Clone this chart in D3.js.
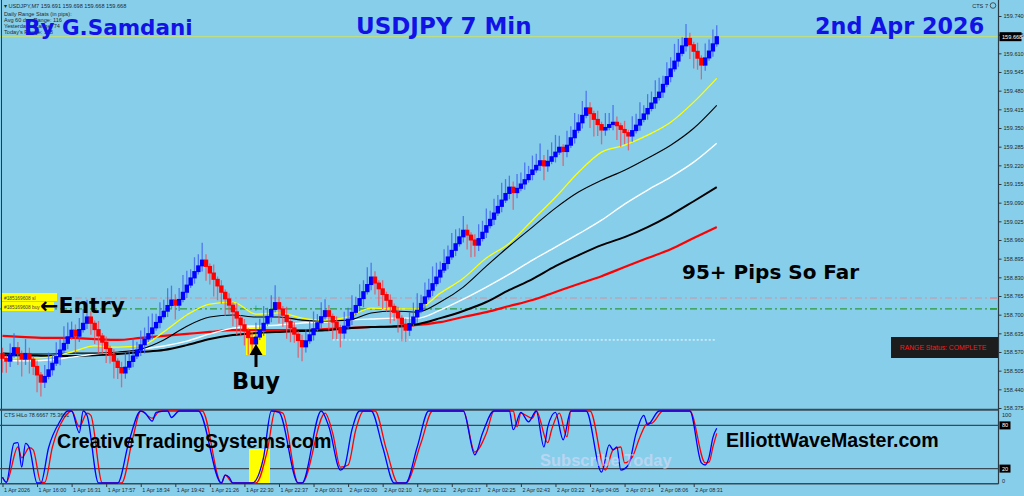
<!DOCTYPE html>
<html><head><meta charset="utf-8">
<script src="https://cdn.jsdelivr.net/npm/d3@7"></script>
<style>body{margin:0;background:#87CEEB;overflow:hidden}svg{display:block}</style>
</head><body><svg id="c" width="1024" height="496"></svg>
<script>
// ---------- DATA ----------
const firstOpen = 158.565;
const closes = [
158.548,158.538,158.560,158.585,158.565,158.545,158.565,158.545,158.520,158.490,
158.465,158.485,158.508,158.531,158.554,158.577,158.600,158.623,158.646,158.625,
158.648,158.670,158.692,158.670,158.648,158.626,158.604,158.582,158.560,158.538,
158.516,158.497,158.517,158.537,158.556,158.576,158.595,158.615,158.634,158.654,
158.673,158.693,158.712,158.732,158.751,158.733,158.753,158.778,158.803,158.828,
158.850,158.870,158.890,158.868,158.845,158.823,158.800,158.778,158.755,158.733,
158.710,158.688,158.665,158.643,158.620,158.598,158.622,158.646,158.670,158.694,
158.718,158.742,158.720,158.698,158.676,158.654,158.632,158.610,158.588,158.609,
158.630,158.651,158.672,158.693,158.714,158.694,158.674,158.655,158.636,158.660,
158.684,158.708,158.732,158.756,158.780,158.805,158.831,158.810,158.790,158.770,
158.750,158.729,158.708,158.688,158.667,158.646,158.669,158.692,158.715,158.739,
158.762,158.785,158.808,158.831,158.855,158.878,158.901,158.924,158.947,158.971,
158.994,158.977,158.960,158.942,158.965,158.987,159.010,159.032,159.054,159.077,
159.099,159.122,159.144,159.125,159.140,159.155,159.170,159.188,159.204,159.220,
159.236,159.218,159.234,159.250,159.266,159.283,159.268,159.290,159.316,159.342,
159.368,159.394,159.420,159.400,159.380,159.362,159.343,159.352,159.362,159.370,
159.358,159.345,159.334,159.322,159.341,159.360,159.380,159.399,159.418,159.437,
159.456,159.475,159.502,159.529,159.556,159.583,159.610,159.636,159.662,159.640,
159.617,159.593,159.569,159.594,159.618,159.643,159.668];
const upperWickPips = [
2,1,4,5,2,1,5,2,1,2, 1,4,6,3,5,4,6,5,3,2, 4,5,6,2,1,3,1,2,1,2, 1,2,5,4,6,3,5,4,6,5,
3,5,4,6,5,2,4,6,5,3, 5,4,6,2,1,3,1,2,1,2, 1,3,1,2,1,2,5,4,6,3, 5,6,2,1,3,1,2,1,2,4,
5,6,3,5,4,2,1,2,1,5, 4,6,3,5,4,6,5,2,1,3, 1,2,1,2,1,2,4,5,6,3, 5,4,6,5,3,5,4,6,5,3,
5,2,1,2,5,4,6,3,5,4, 6,5,4,2,5,4,6,3,5,4, 6,2,4,5,6,4,1,5,4,6, 3,5,6,2,1,3,1,5,4,6,
2,1,3,1,5,4,6,3,5,4, 6,5,3,5,4,6,5,3,5,2, 1,3,1,5,4,5,4];
const lowerWickPips = [
5,4,2,1,4,6,2,5,3,6, 5,2,1,2,1,3,1,2,1,6, 2,1,2,4,5,6,4,5,3,6, 4,5,2,1,2,1,2,3,1,2,
1,2,1,2,1,5,2,1,2,1, 2,1,2,5,4,6,5,4,6,3, 5,6,4,5,6,4,2,1,2,1, 2,1,5,4,6,5,3,6,5,2,
1,2,1,2,1,5,6,4,5,2, 1,2,1,2,3,1,2,4,6,5, 4,6,3,5,6,4,2,1,2,1, 2,1,2,1,2,1,2,1,2,1,
2,5,6,4,2,1,2,1,2,1, 2,1,2,6,2,1,2,1,2,1, 2,5,2,1,2,1,5,2,1,2, 1,2,1,5,6,4,5,2,1,2,
5,6,4,5,2,1,2,1,2,1, 2,1,2,1,2,1,2,1,2,5, 6,4,5,2,1,2,1];

const maIndex = [0,6,12,18,24,30,36,42,48,54,60,66,72,78,84,90,96,102,108,114,120,126,132,138,144,150,156,162,168,174,180,186];
const maYellow = [158.552,158.549,158.552,158.570,158.591,158.587,158.591,158.640,158.699,158.737,158.744,158.702,158.706,158.688,158.681,158.692,158.723,158.720,158.720,158.775,158.827,158.897,158.949,159.029,159.109,159.196,159.266,159.290,159.325,159.370,159.440,159.523];
const maThinBlack = [158.566,158.563,158.563,158.566,158.566,158.570,158.580,158.612,158.660,158.692,158.699,158.692,158.692,158.681,158.678,158.681,158.706,158.713,158.709,158.744,158.796,158.869,158.939,159.005,159.071,159.127,159.168,159.203,159.245,159.290,159.349,159.429];
const maWhite = [158.542,158.539,158.542,158.552,158.563,158.570,158.580,158.591,158.608,158.633,158.653,158.660,158.664,158.671,158.674,158.681,158.685,158.688,158.688,158.716,158.754,158.796,158.841,158.890,158.935,158.981,159.029,159.085,159.134,159.179,159.231,159.297];
const maThickBlack = [158.559,158.559,158.556,158.556,158.559,158.563,158.570,158.577,158.594,158.615,158.629,158.636,158.640,158.643,158.646,158.653,158.657,158.660,158.667,158.688,158.713,158.744,158.786,158.824,158.869,158.907,158.942,158.970,159.005,159.047,159.095,159.144];
const maRed = [158.626,158.622,158.619,158.619,158.615,158.612,158.619,158.626,158.633,158.640,158.646,158.646,158.646,158.646,158.650,158.653,158.657,158.657,158.664,158.674,158.692,158.709,158.730,158.751,158.779,158.807,158.834,158.866,158.897,158.928,158.967,159.005];

const priceTicks = [158.375,158.440,158.505,158.570,158.635,158.700,158.765,158.830,158.895,158.960,159.025,159.090,159.155,159.220,159.285,159.350,159.415,159.480,159.545,159.610,159.675,159.740];
const timeIndex = [0,9,18,27,36,45,54,63,72,81,90,99,108,117,126,135,144,153,162,171,180];
const timeLabels = ["1 Apr 2026","1 Apr 16:00","1 Apr 16:31","1 Apr 17:57","1 Apr 18:34","1 Apr 19:42","1 Apr 21:26","1 Apr 22:30","1 Apr 22:37","2 Apr 00:31","2 Apr 02:00","2 Apr 02:10","2 Apr 02:12","2 Apr 02:17","2 Apr 02:25","2 Apr 02:43","2 Apr 03:22","2 Apr 04:05","2 Apr 07:14","2 Apr 08:06","2 Apr 08:31"];

const oscBlueIdx = [0,1,3,4,5,6,7,9,10,12,15,17,18,20,21,22,25,30,33,36,37,39,40,43,44,46,51,57,58,59,60,65,68,70,72,77,78,83,85,88,89,91,93,96,99,102,105,108,111,120,123,125,128,132,133,135,137,139,141,142,144,146,148,152,156,158,159,160,161,163,165,167,168,171,179,182,183,184,185,186];
const oscBlue = [8,1,55,56,22,55,49,0,0,49,86,100,100,70,100,94,0,0,59,100,98,86,98,100,91,100,100,0,11,8,0,0,36,100,98,0,0,100,78,18,22,74,100,100,50,0,0,50,100,100,39,69,100,100,74,98,85,100,50,78,98,60,100,100,15,53,46,50,18,25,69,94,81,100,100,28,25,36,63,76];
const oscRedIdx = [0,1,4,5,7,8,10,11,13,16,18,20,22,23,26,31,34,36,39,41,52,57,58,60,66,69,71,73,77,78,84,86,88,90,92,94,97,100,103,105,109,112,120,123,126,128,133,134,135,138,139,142,143,145,147,148,153,157,159,161,162,164,166,168,169,172,179,183,184,185,186];
const oscRed = [8,1,50,35,49,46,1,1,50,90,100,78,97,94,0,0,64,100,90,100,100,0,11,0,0,46,100,97,0,0,97,69,22,25,74,100,100,46,0,0,56,100,100,43,69,100,100,78,97,90,100,56,74,97,64,100,100,18,46,50,28,36,64,83,83,100,100,28,29,50,69];
const oscLevels = [80, 20];

const slPrice = 158.758;
const buyPrice = 158.720;
const dottedPrice = 158.612;
const lastPrice = 159.668;
const infoLines = ["Daily Range Stats (in pips):","Avg 60 day Range: 116","Yesterday's Range: 74","Today's Range: 118"];

// ---------- DRAW ----------
const svg = d3.select("#c");
const AX = 998.5;
const x = d3.scaleLinear().domain([0,186]).range([2.5, 2.5+186*3.84]);
const y = d3.scaleLinear().domain([158.375,159.740]).range([408,16]);
const yo = d3.scaleLinear().domain([0,100]).range([483,411]);

svg.append("rect").attr("width",1024).attr("height",496).attr("fill","#87CEEB");

// yellow highlight behind bars
svg.append("rect").attr("x",246).attr("y",325).attr("width",20).attr("height",30).attr("fill","#ffff00");

// level lines
svg.append("line").attr("x1",0).attr("x2",AX).attr("y1",y(lastPrice)).attr("y2",y(lastPrice))
  .attr("stroke","#c8e070").attr("stroke-width",1);
svg.append("line").attr("x1",0).attr("x2",AX).attr("y1",y(slPrice)).attr("y2",y(slPrice))
  .attr("stroke","#d48f9c").attr("stroke-width",1.2).attr("stroke-dasharray","7,3,2,3");
svg.append("line").attr("x1",0).attr("x2",AX).attr("y1",y(buyPrice)).attr("y2",y(buyPrice))
  .attr("stroke","#2f9a3c").attr("stroke-width",1.1).attr("stroke-dasharray","7,3,2,3");
svg.append("line").attr("x1",x(86)).attr("x2",x(186)).attr("y1",y(dottedPrice)).attr("y2",y(dottedPrice))
  .attr("stroke","#ffffff").attr("stroke-width",1).attr("stroke-dasharray","2,2");
svg.append("text").attr("x",x(66)).attr("y",y(buyPrice)+2.5).attr("font-size",8).attr("font-family","DejaVu Sans")
  .attr("fill","#2f9a3c").attr("text-anchor","middle").text("+");
svg.append("line").attr("x1",990).attr("x2",997).attr("y1",y(slPrice)).attr("y2",y(slPrice)).attr("stroke","#d48f9c").attr("stroke-width",1.5);
svg.append("line").attr("x1",990).attr("x2",997).attr("y1",y(buyPrice)).attr("y2",y(buyPrice)).attr("stroke","#2f9a3c").attr("stroke-width",1.5);

// moving averages
const maLine = d3.line().x((d,i)=>x(maIndex[i])).y(d=>y(d)).curve(d3.curveMonotoneX);
[[maRed,"#ff0000",2.2],[maThickBlack,"#000000",2],[maWhite,"#ffffff",1.4],[maThinBlack,"#000000",1.1],[maYellow,"#ffff00",1.3]]
 .forEach(([arr,col,w])=>{
   svg.append("path").attr("d",maLine(arr)).attr("fill","none").attr("stroke",col).attr("stroke-width",w);
 });

// bars
const bars = closes.map((c,i)=>{
  const o = i===0 ? firstOpen : closes[i-1];
  return {i, o, c, bull: c>o,
    hi: Math.max(o,c)+upperWickPips[i]*0.01,
    lo: Math.min(o,c)-lowerWickPips[i]*0.01};
});
const bg = svg.append("g");
bg.selectAll("line.w").data(bars).join("line").attr("class","w")
  .attr("x1",d=>x(d.i)).attr("x2",d=>x(d.i)).attr("y1",d=>y(d.hi)).attr("y2",d=>y(d.lo))
  .attr("stroke",d=>d.bull?"#3f63f0":"#e8505c").attr("stroke-opacity",0.8).attr("stroke-width",1.3);
bg.selectAll("rect.b").data(bars).join("rect").attr("class","b")
  .attr("x",d=>x(d.i)-2.2).attr("width",4.4)
  .attr("y",d=>y(Math.max(d.o,d.c))-0.5).attr("height",d=>Math.max(1,y(Math.min(d.o,d.c))-y(Math.max(d.o,d.c)))+1)
  .attr("fill",d=>d.bull?"#0000ff":"#ff0000");

// price axis
const ya = d3.axisRight(y).tickValues(priceTicks).tickFormat(d3.format(".3f")).tickSize(3).tickSizeOuter(0);
const gy = svg.append("g").attr("transform",`translate(${AX},0)`).call(ya);
gy.select(".domain").remove();
gy.selectAll("line").attr("stroke","#2a3a44");
gy.selectAll("text").attr("font-family","Liberation Sans").attr("font-size",5.6).attr("fill","#1e2a30").attr("x",5);
svg.append("line").attr("x1",AX).attr("x2",AX).attr("y1",0).attr("y2",484).attr("stroke","#2a3a44").attr("stroke-width",1.2);
svg.append("line").attr("x1",1.5).attr("x2",1.5).attr("y1",0).attr("y2",484).attr("stroke","#2a3a44").attr("stroke-width",1);
// current price label
svg.append("rect").attr("x",999.5).attr("y",y(lastPrice)-4.5).attr("width",22).attr("height",9).attr("fill","#000");
svg.append("text").attr("x",1002).attr("y",y(lastPrice)+2).attr("font-family","Liberation Sans").attr("font-size",5.6)
  .attr("fill","#ffffff").text(lastPrice.toFixed(3));

// indicator panel
svg.append("line").attr("x1",0).attr("x2",AX).attr("y1",409.8).attr("y2",409.8).attr("stroke","#3a4a54").attr("stroke-width",2);
svg.append("line").attr("x1",0).attr("x2",AX).attr("y1",483.8).attr("y2",483.8).attr("stroke","#3a4a54").attr("stroke-width",1.4);
oscLevels.forEach(v=>{
  svg.append("line").attr("x1",0).attr("x2",AX).attr("y1",yo(v)).attr("y2",yo(v)).attr("stroke","#3a4a54").attr("stroke-width",1.2);
});
svg.append("rect").attr("x",249).attr("y",449).attr("width",21).attr("height",34).attr("fill","#ffff00");
const oscLine = (idx)=>d3.line().x((d,i)=>x(idx[i])).y(d=>yo(d)).curve(d3.curveMonotoneX);
svg.append("path").attr("d",oscLine(oscRedIdx)(oscRed)).attr("fill","none").attr("stroke","#ff0000").attr("stroke-width",1.3);
svg.append("path").attr("d",oscLine(oscBlueIdx)(oscBlue)).attr("fill","none").attr("stroke","#0000ff").attr("stroke-width",1.3);
// indicator axis labels
[[100,false],[80,true],[20,true],[0,false]].forEach(([v,box])=>{
  const yy = v===100 ? 415 : (v===0 ? 481 : yo(v));
  if(box) svg.append("rect").attr("x",999.5).attr("y",yy-4).attr("width",11).attr("height",8).attr("fill","#000");
  svg.append("text").attr("x",1002).attr("y",yy+2).attr("font-family","Liberation Sans").attr("font-size",5.6)
    .attr("fill",box?"#ffffff":"#1e2a30").text(v);
});
svg.append("text").attr("x",4).attr("y",417).attr("font-family","Liberation Sans").attr("font-size",5.4).attr("fill","#1e2a30")
  .text("CTS HiLo 78.6667 75.3661");

// time axis
const xa = d3.axisBottom(x).tickValues(timeIndex).tickFormat((d,i)=>timeLabels[i]).tickSize(3).tickSizeOuter(0);
const gx = svg.append("g").attr("transform","translate(0,484)").call(xa);
gx.select(".domain").remove();
gx.selectAll("line").attr("stroke","#2a3a44");
gx.selectAll("text").attr("font-family","Liberation Sans").attr("font-size",5.4).attr("fill","#1e2a30")
  .attr("text-anchor","start").attr("dx",1).attr("y",4);

// header texts
svg.append("text").attr("x",4).attr("y",8).attr("font-family","Liberation Sans").attr("font-size",5.6).attr("fill","#1e2a30")
  .text("\u25BE  USDJPY,M7  159.691 159.698 159.668 159.668");
infoLines.forEach((t,i)=>{
  svg.append("text").attr("x",4).attr("y",16+i*6).attr("font-family","Liberation Sans").attr("font-size",5.6).attr("fill","#1e2a30").text(t);
});
svg.append("text").attr("x",988).attr("y",8).attr("text-anchor","end").attr("font-family","Liberation Sans").attr("font-size",5.6).attr("fill","#1e2a30").text("CTS 7");
svg.append("circle").attr("cx",993).attr("cy",5.5).attr("r",2.8).attr("fill","none").attr("stroke","#333").attr("stroke-width",0.8);

const title = (t,xx,yy,fs)=>svg.append("text").attr("x",xx).attr("y",yy).attr("font-family","DejaVu Sans").attr("font-weight","bold")
  .attr("font-size",fs).attr("fill","#1212e6").text(t);
title("By G.Samdani",24,35,21.5);
title("USDJPY 7 Min",356,34,23);
title("2nd Apr 2026",815,34,22.3);

// annotations
svg.append("rect").attr("x",2).attr("y",293).attr("width",55).attr("height",8).attr("fill","#ffff00");
svg.append("rect").attr("x",2).attr("y",302).attr("width",52).attr("height",9).attr("fill","#ffff00");
svg.append("text").attr("x",4).attr("y",299.5).attr("font-family","Liberation Sans").attr("font-size",4.8).attr("fill","#444").text("#185169608 sl");
svg.append("text").attr("x",4).attr("y",308.5).attr("font-family","Liberation Sans").attr("font-size",4.8).attr("fill","#444").text("#185169608 buy");
const big = (t,xx,yy,fs)=>svg.append("text").attr("x",xx).attr("y",yy).attr("font-family","DejaVu Sans").attr("font-weight","bold")
  .attr("font-size",fs).attr("fill","#000").text(t);
big("\u2190Entry",40,313,22);
big("Buy",232,389,22.5);
big("95+ Pips So Far",682,279,20);
svg.append("path").attr("d","M256,367V350").attr("stroke","#000").attr("stroke-width",3);
svg.append("path").attr("d","M249.5,355L256,344L262.5,355Z").attr("fill","#000");

svg.append("text").attr("x",57).attr("y",448).attr("font-family","Liberation Sans").attr("font-weight","bold").attr("font-size",19.6).attr("fill","#000").text("CreativeTradingSystems.com");
svg.append("text").attr("x",726).attr("y",447).attr("font-family","Liberation Sans").attr("font-weight","bold").attr("font-size",19.6).attr("fill","#000").text("ElliottWaveMaster.com");
svg.append("text").attr("x",540).attr("y",466).attr("font-family","Liberation Sans").attr("font-weight","bold").attr("font-size",16.5).attr("fill","#e4dcf8").attr("fill-opacity",0.55).text("Subscribe Today");

// range status box
svg.append("rect").attr("x",891).attr("y",337).attr("width",107).attr("height",21).attr("fill","#1c1c1c");
svg.append("text").attr("x",943).attr("y",349.5).attr("text-anchor","middle").attr("font-family","Liberation Sans").attr("font-size",6.8)
  .attr("fill","#ff1a1a").text("RANGE  Status: COMPLETE");
</script></body></html>
